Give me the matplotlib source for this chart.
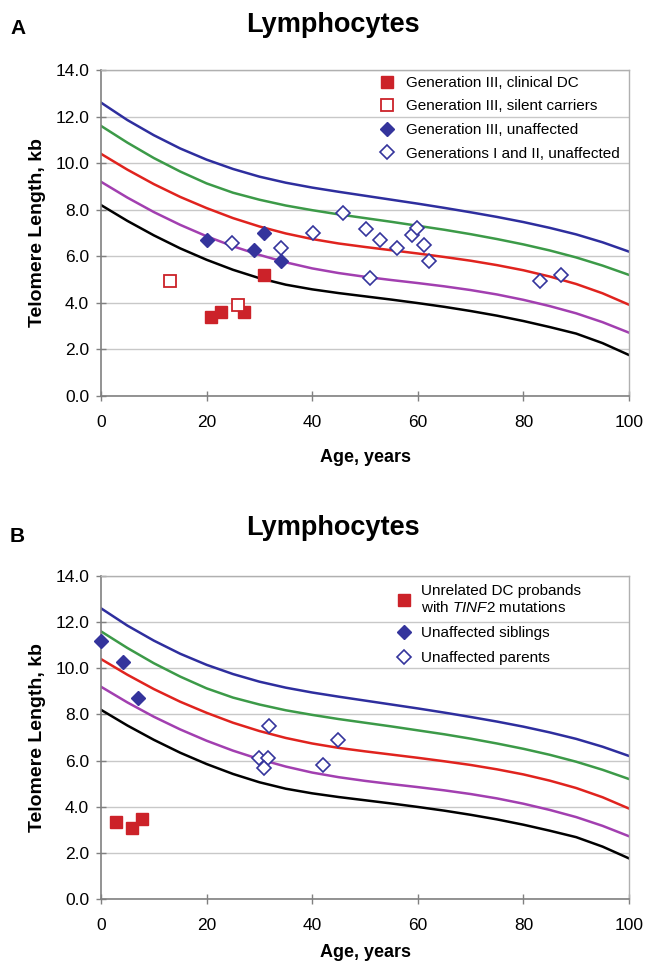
import matplotlib
matplotlib.use("Agg")
import matplotlib.pyplot as plt
from matplotlib.lines import Line2D

plt.rcParams['font.family'] = ['Liberation Sans', 'DejaVu Sans']
plt.rcParams['mathtext.fontset'] = 'custom'
plt.rcParams['mathtext.it'] = 'Liberation Sans:italic'
plt.rcParams['mathtext.rm'] = 'Liberation Sans'

# Percentile curves
curve_age = [0, 5, 10, 15, 20, 25, 30, 35, 40, 45, 50, 55, 60, 65, 70, 75, 80, 85, 90, 95, 100]
p99 = [12.6, 11.85, 11.2, 10.63, 10.15, 9.75, 9.42, 9.16, 8.95, 8.77, 8.6, 8.43, 8.26,
       8.08, 7.89, 7.69, 7.47, 7.22, 6.94, 6.6, 6.2]
p90 = [11.6, 10.88, 10.22, 9.64, 9.13, 8.73, 8.43, 8.18, 7.98, 7.8, 7.64, 7.48, 7.31,
       7.14, 6.95, 6.74, 6.51, 6.25, 5.95, 5.6, 5.2]
p50 = [10.4, 9.72, 9.1, 8.55, 8.07, 7.64, 7.28, 6.98, 6.74, 6.55, 6.4, 6.26, 6.12,
       5.97, 5.81, 5.62, 5.4, 5.13, 4.81, 4.41, 3.92]
p10 = [9.2, 8.52, 7.9, 7.35, 6.86, 6.43, 6.06, 5.74, 5.48, 5.28, 5.12, 4.98, 4.85,
       4.71, 4.55, 4.36, 4.13, 3.86, 3.55, 3.17, 2.72]
p1 = [8.2, 7.52, 6.9, 6.34, 5.85, 5.42, 5.06, 4.78, 4.58, 4.42, 4.28, 4.14, 3.99,
      3.83, 3.65, 3.45, 3.22, 2.96, 2.68, 2.27, 1.76]
curves = [p99, p90, p50, p10, p1]
curve_colors = ['#2E2E9E', '#3C9A48', '#E0231E', '#A23FB0', '#000000']

# Panel A data
a_dc_age = [20.9, 22.8, 27.0, 30.8]
a_dc_tl = [3.40, 3.60, 3.60, 5.19]
a_silent_age = [13.0, 26.0]
a_silent_tl = [4.94, 3.90]
a_g3_age = [20.1, 29.0, 30.9, 34.0]
a_g3_tl = [6.72, 6.26, 7.00, 5.79]
a_g12_age = [24.8, 34.0, 40.1, 45.9, 50.1, 52.9, 56.1, 51.0, 58.9, 59.9, 61.1, 62.1, 83.2, 87.1]
a_g12_tl = [6.59, 6.37, 6.99, 7.85, 7.19, 6.72, 6.37, 5.07, 6.90, 7.22, 6.50, 5.80, 4.93, 5.19]

# Panel B data
b_dc_age = [2.8, 5.9, 7.8]
b_dc_tl = [3.35, 3.07, 3.45]
b_sib_age = [0.0, 4.1, 7.0]
b_sib_tl = [11.2, 10.27, 8.70]
b_par_age = [31.9, 30.0, 31.6, 30.8, 42.0, 44.9]
b_par_tl = [7.48, 6.12, 6.12, 5.66, 5.79, 6.88]

yticks = [0, 2, 4, 6, 8, 10, 12, 14]
xticks = [0, 20, 40, 60, 80, 100]

RED = '#CC2229'
BLUE = '#34349C'

W, H = 645, 965
fig = plt.figure(figsize=(W / 100, H / 100), dpi=100)


def px_ax(left, right, top, bottom):
    return fig.add_axes([left / W, 1 - bottom / H, (right - left) / W, (bottom - top) / H])


def style(ax, xlabelpad):
    ax.set_xlim(0, 100)
    ax.set_ylim(0, 14)
    ax.set_yticks(yticks)
    ax.set_yticklabels([f"{v:.1f}" for v in yticks])
    ax.set_xticks(xticks)
    ax.grid(axis='y', color='#C8C8C8', linewidth=1.0)
    ax.set_axisbelow(True)
    for s in ['left', 'bottom']:
        ax.spines[s].set_color('#808080')
        ax.spines[s].set_linewidth(1.2)
    for s in ['top', 'right']:
        ax.spines[s].set_color('#B0B0B0')
        ax.spines[s].set_linewidth(1.0)
    ax.tick_params(direction='inout', length=7, width=1, color='#808080',
                   labelsize=12.5)
    ax.tick_params(axis='x', pad=10)
    ax.tick_params(axis='y', pad=5)
    ax.set_xlabel('Age, years', fontsize=13, fontweight='bold', labelpad=xlabelpad)
    ax.set_ylabel('Telomere Length, kb', fontsize=14, fontweight='bold', labelpad=7)
    for c, col in zip(curves, curve_colors):
        ax.plot(curve_age, c, color=col, linewidth=1.8, zorder=2)


sq = dict(marker='s', linestyle='none', markersize=9)
dm = dict(marker='D', linestyle='none', markersize=7.5)

# Panel A
axA = px_ax(101, 629, 70, 396)
style(axA, 14)
axA.plot(a_dc_age, a_dc_tl, color=RED, mec=RED, **sq, zorder=3)
axA.plot(a_silent_age, a_silent_tl, color='none', mfc='white', mec=RED, mew=1.3, **sq, zorder=3)
axA.plot(a_g3_age, a_g3_tl, color=BLUE, mec=BLUE, **dm, zorder=3)
axA.plot(a_g12_age, a_g12_tl, color='none', mfc='white', mec=BLUE, mew=1.2, **dm, zorder=3)
hA = [Line2D([], [], color=RED, mec=RED, marker='s', linestyle='none', markersize=8),
      Line2D([], [], mfc='white', mec=RED, mew=1.3, marker='s', linestyle='none', markersize=8),
      Line2D([], [], color=BLUE, mec=BLUE, marker='D', linestyle='none', markersize=7),
      Line2D([], [], mfc='white', mec=BLUE, mew=1.2, marker='D', linestyle='none', markersize=7)]
axA.legend(hA, ['Generation III, clinical DC', 'Generation III, silent carriers',
                'Generation III, unaffected', 'Generations I and II, unaffected'],
           loc='upper left', bbox_to_anchor=(0.528, 0.982), frameon=False, fontsize=11,
           handlelength=1.0, handletextpad=0.7, borderpad=0, borderaxespad=0,
           labelspacing=0.63, numpoints=1)

# Panel B
axB = px_ax(101, 629, 576, 899)
style(axB, 8)
axB.plot(b_dc_age, b_dc_tl, color=RED, mec=RED, **sq, zorder=3, clip_on=False)
axB.plot(b_sib_age, b_sib_tl, color=BLUE, mec=BLUE, **dm, zorder=3, clip_on=False)
axB.plot(b_par_age, b_par_tl, color='none', mfc='white', mec=BLUE, mew=1.2, **dm, zorder=3)
hB = [hA[0], hA[2], hA[3]]
axB.legend(hB, ['Unrelated DC probands\nwith $\\mathit{TINF2}$ mutations',
                'Unaffected siblings', 'Unaffected parents'],
           loc='upper left', bbox_to_anchor=(0.559, 0.975), frameon=False, fontsize=11,
           handlelength=1.0, handletextpad=0.6, borderpad=0, borderaxespad=0,
           labelspacing=0.7, numpoints=1)

# Titles and panel letters
fig.text(333 / W, 1 - 32 / H, 'Lymphocytes', ha='center', va='baseline',
         fontsize=19.5, fontweight='bold')
fig.text(333 / W, 1 - 535 / H, 'Lymphocytes', ha='center', va='baseline',
         fontsize=19.5, fontweight='bold')
fig.text(10 / W, 1 - 34 / H, 'A', ha='left', va='baseline', fontsize=15, fontweight='bold')
fig.text(10 / W, 1 - 542 / H, 'B', ha='left', va='baseline', fontsize=15, fontweight='bold')

fig.savefig('out.png', dpi=100)
